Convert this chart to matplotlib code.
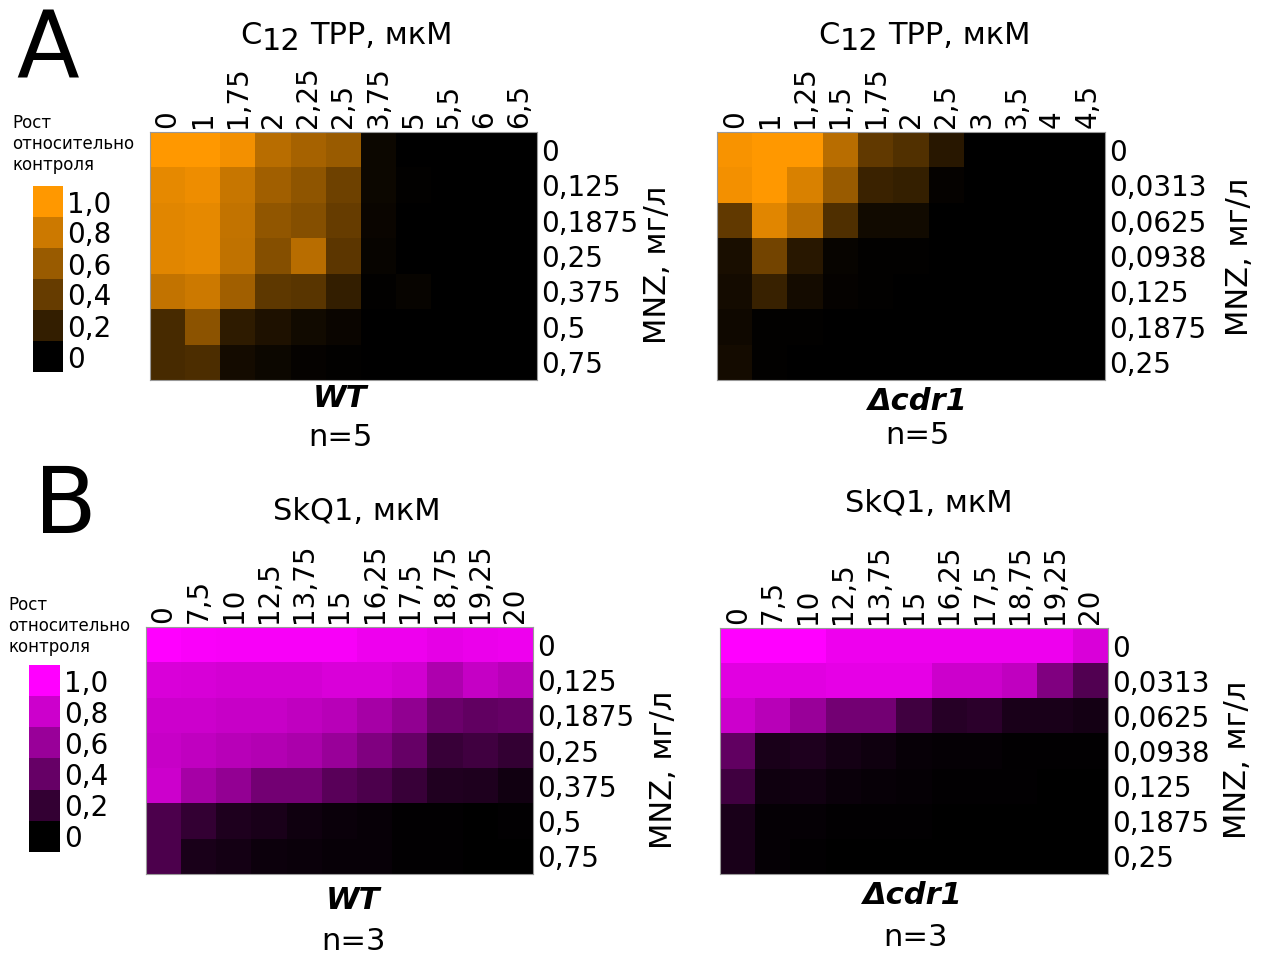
import numpy as np
import matplotlib
matplotlib.use("Agg")
import matplotlib.pyplot as plt
from matplotlib.colors import LinearSegmentedColormap

# ---------------- data ----------------
c12_wt_cols = ["0", "1", "1,75", "2", "2,25", "2,5", "3,75", "5", "5,5", "6", "6,5"]
c12_wt_rows = ["0", "0,125", "0,1875", "0,25", "0,375", "0,5", "0,75"]
c12_wt_vals = [
    [1.00, 1.00, 0.95, 0.72, 0.65, 0.60, 0.05, 0.00, 0.00, 0.00, 0.00],
    [0.90, 0.93, 0.78, 0.63, 0.56, 0.43, 0.05, 0.01, 0.00, 0.00, 0.00],
    [0.88, 0.90, 0.76, 0.57, 0.52, 0.40, 0.04, 0.00, 0.00, 0.00, 0.00],
    [0.88, 0.90, 0.75, 0.52, 0.72, 0.36, 0.03, 0.00, 0.00, 0.00, 0.00],
    [0.76, 0.80, 0.63, 0.37, 0.35, 0.20, 0.01, 0.03, 0.00, 0.00, 0.00],
    [0.28, 0.55, 0.18, 0.12, 0.07, 0.04, 0.00, 0.00, 0.00, 0.00, 0.00],
    [0.28, 0.30, 0.08, 0.05, 0.02, 0.01, 0.00, 0.00, 0.00, 0.00, 0.00],
]

c12_cdr_cols = ["0", "1", "1,25", "1,5", "1,75", "2", "2,5", "3", "3,5", "4", "4,5"]
c12_cdr_rows = ["0", "0,0313", "0,0625", "0,0938", "0,125", "0,1875", "0,25"]
c12_cdr_vals = [
    [0.97, 1.00, 1.00, 0.72, 0.38, 0.32, 0.16, 0.00, 0.00, 0.00, 0.00],
    [0.95, 1.00, 0.85, 0.60, 0.23, 0.21, 0.02, 0.00, 0.00, 0.00, 0.00],
    [0.38, 0.88, 0.72, 0.31, 0.07, 0.07, 0.00, 0.00, 0.00, 0.00, 0.00],
    [0.10, 0.45, 0.16, 0.03, 0.01, 0.01, 0.00, 0.00, 0.00, 0.00, 0.00],
    [0.08, 0.22, 0.08, 0.02, 0.01, 0.00, 0.00, 0.00, 0.00, 0.00, 0.00],
    [0.06, 0.01, 0.01, 0.00, 0.00, 0.00, 0.00, 0.00, 0.00, 0.00, 0.00],
    [0.08, 0.01, 0.00, 0.00, 0.00, 0.00, 0.00, 0.00, 0.00, 0.00, 0.00],
]

skq_wt_cols = ["0", "7,5", "10", "12,5", "13,75", "15", "16,25", "17,5", "18,75", "19,25", "20"]
skq_wt_rows = ["0", "0,125", "0,1875", "0,25", "0,375", "0,5", "0,75"]
skq_wt_vals = [
    [1.00, 0.98, 0.97, 0.97, 0.97, 0.97, 0.93, 0.93, 0.90, 0.92, 0.93],
    [0.85, 0.84, 0.83, 0.83, 0.83, 0.85, 0.85, 0.82, 0.68, 0.77, 0.72],
    [0.80, 0.80, 0.78, 0.78, 0.75, 0.72, 0.65, 0.57, 0.42, 0.38, 0.40],
    [0.78, 0.75, 0.72, 0.70, 0.67, 0.60, 0.50, 0.40, 0.22, 0.25, 0.20],
    [0.80, 0.65, 0.58, 0.45, 0.45, 0.35, 0.30, 0.22, 0.13, 0.12, 0.07],
    [0.30, 0.20, 0.12, 0.10, 0.06, 0.04, 0.03, 0.01, 0.01, 0.00, 0.01],
    [0.30, 0.10, 0.08, 0.05, 0.04, 0.03, 0.03, 0.01, 0.01, 0.00, 0.00],
]

skq_cdr_cols = ["0", "7,5", "10", "12,5", "13,75", "15", "16,25", "17,5", "18,75", "19,25", "20"]
skq_cdr_rows = ["0", "0,0313", "0,0625", "0,0938", "0,125", "0,1875", "0,25"]
skq_cdr_vals = [
    [1.00, 1.00, 1.00, 0.93, 0.93, 0.93, 0.93, 0.93, 0.93, 0.93, 0.85],
    [0.88, 0.88, 0.88, 0.90, 0.90, 0.90, 0.80, 0.80, 0.75, 0.50, 0.32],
    [0.80, 0.72, 0.60, 0.45, 0.45, 0.25, 0.15, 0.17, 0.10, 0.10, 0.08],
    [0.38, 0.10, 0.12, 0.08, 0.06, 0.03, 0.02, 0.02, 0.01, 0.01, 0.01],
    [0.25, 0.06, 0.07, 0.04, 0.03, 0.02, 0.01, 0.01, 0.01, 0.00, 0.00],
    [0.10, 0.02, 0.02, 0.01, 0.01, 0.01, 0.00, 0.00, 0.00, 0.00, 0.00],
    [0.10, 0.02, 0.01, 0.00, 0.00, 0.00, 0.00, 0.00, 0.00, 0.00, 0.00],
]

legend_levels = [1.0, 0.8, 0.6, 0.4, 0.2, 0.0]
legend_labels = ["1,0", "0,8", "0,6", "0,4", "0,2", "0"]

# ---------------- figure ----------------
W, H = 1267, 955
plt.rcParams['font.family'] = ['DejaVu Sans']
fig = plt.figure(figsize=(W / 100, H / 100), dpi=100)

orange = LinearSegmentedColormap.from_list("org", ["#000000", "#FF9800"])
magenta = LinearSegmentedColormap.from_list("mag", ["#000000", "#FF00FF"])

TICK_FS = 20
LABEL_FS = 22


def rect(x0, y0, x1, y1):
    return [x0 / W, 1 - y1 / H, (x1 - x0) / W, (y1 - y0) / H]


def fx(x):
    return x / W


def fy(y):
    return 1 - y / H


def heatmap(box, vals, cols, rows, cmap):
    ax = fig.add_axes(rect(*box))
    ax.imshow(np.array(vals), cmap=cmap, vmin=0, vmax=1, aspect='auto',
              interpolation='nearest')
    ax.set_xticks(range(len(cols)))
    ax.set_xticklabels(cols, rotation=90, fontsize=TICK_FS)
    ax.set_yticks(range(len(rows)))
    ax.set_yticklabels(rows, fontsize=TICK_FS)
    ax.xaxis.tick_top()
    ax.yaxis.tick_right()
    ax.tick_params(length=0, pad=3)
    for s in ax.spines.values():
        s.set_color('#999999')
        s.set_linewidth(0.8)
    return ax


def legend(box, cmap, title_xy):
    ax = fig.add_axes(rect(*box))
    ax.imshow(np.array(legend_levels).reshape(-1, 1), cmap=cmap, vmin=0, vmax=1,
              aspect='auto', interpolation='nearest')
    ax.set_xticks([])
    ax.set_yticks(range(len(legend_labels)))
    ax.set_yticklabels(legend_labels, fontsize=TICK_FS)
    ax.yaxis.tick_right()
    ax.tick_params(length=0, pad=3)
    for s in ax.spines.values():
        s.set_visible(False)
    fig.text(fx(title_xy[0]), fy(title_xy[1]), "Рост\nотносительно\nконтроля",
             fontsize=12, va='top', ha='left', linespacing=1.2)


def c12_title(x0, base_y):
    fig.text(fx(x0), fy(base_y), "C", fontsize=LABEL_FS, ha='left', va='baseline')
    fig.text(fx(x0 + 22), fy(base_y + 6), "12", fontsize=LABEL_FS, ha='left', va='baseline')
    fig.text(fx(x0 + 70), fy(base_y), "TPP, мкМ", fontsize=LABEL_FS, ha='left', va='baseline')


# panel A
heatmap((150, 132, 537, 380), c12_wt_vals, c12_wt_cols, c12_wt_rows, orange)
heatmap((717, 132, 1105, 380), c12_cdr_vals, c12_cdr_cols, c12_cdr_rows, orange)
legend((33, 186, 63, 372), orange, (12, 114))

# panel B
heatmap((146, 627, 533, 874), skq_wt_vals, skq_wt_cols, skq_wt_rows, magenta)
heatmap((720, 628, 1108, 874), skq_cdr_vals, skq_cdr_cols, skq_cdr_rows, magenta)
legend((29, 665, 60, 852), magenta, (8, 596))

# titles
c12_title(240, 44)
c12_title(818, 44)
fig.text(fx(357), fy(511), "SkQ1, мкМ", fontsize=LABEL_FS, ha='center', va='center')
fig.text(fx(929), fy(503), "SkQ1, мкМ", fontsize=LABEL_FS, ha='center', va='center')

# y labels
for (x, y) in [(657, 265), (1240, 257), (663, 770), (1237, 760)]:
    fig.text(fx(x), fy(y), "MNZ, мг/л", fontsize=LABEL_FS, rotation=90, ha='center', va='center')

# strain labels
for (x, y, s) in [(340, 398, "WT"), (917, 402, "Δcdr1"), (353, 900, "WT"), (912, 895, "Δcdr1")]:
    fig.text(fx(x), fy(y), s, fontsize=LABEL_FS, fontweight='bold', fontstyle='italic',
             ha='center', va='center')
for (x, y, s) in [(340, 437, "n=5"), (917, 435, "n=5"), (353, 941, "n=3"), (915, 937, "n=3")]:
    fig.text(fx(x), fy(y), s, fontsize=LABEL_FS, ha='center', va='center')

# panel letters
fig.text(fx(48), fy(51), "A", fontsize=66, ha='center', va='center')
fig.text(fx(65), fy(507), "B", fontsize=66, ha='center', va='center')

fig.savefig("out.png", dpi=100, facecolor='white')
